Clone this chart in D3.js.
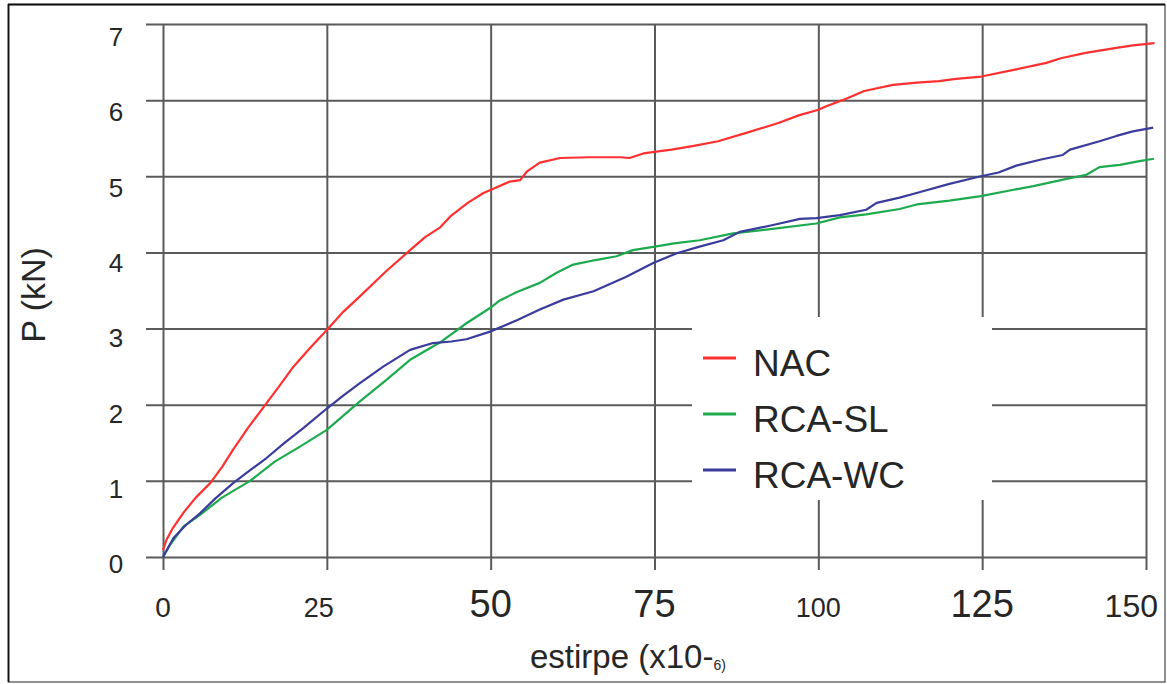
<!DOCTYPE html>
<html>
<head>
<meta charset="utf-8">
<script src="https://cdn.jsdelivr.net/npm/d3@7"></script>
<style>
  html, body { margin: 0; padding: 0; background: #fff; }
  svg { display: block; font-family: "Liberation Sans", Arial, sans-serif; }
</style>
</head>
<body>
<svg id="chart" width="1167" height="684"></svg>
<script>
// Load–strain curves for three concrete mixes
const strainNAC = [0, 0.5, 1.5, 3.1, 5, 7.2, 9, 10.7, 13, 15.8, 17.8, 19.9, 22.5, 25, 27.5, 30, 34, 37.7, 40, 42.3, 43.8, 46.5, 48.9, 50.5, 52.9, 54.5, 55.5, 57.5, 60.6, 65, 69.7, 71.2, 73.3, 77.6, 81, 84.7, 89, 93.9, 97, 99.9, 101.5, 103.7, 107, 111.4, 115, 118.4, 121, 124.9, 130, 134.8, 137, 140.8, 145, 148, 151.3];
const loadNAC   = [0.09, 0.22, 0.38, 0.58, 0.78, 0.97, 1.18, 1.41, 1.7, 2.02, 2.25, 2.5, 2.75, 2.98, 3.22, 3.42, 3.75, 4.03, 4.2, 4.33, 4.47, 4.65, 4.78, 4.84, 4.93, 4.95, 5.06, 5.18, 5.24, 5.25, 5.25, 5.24, 5.3, 5.35, 5.4, 5.46, 5.57, 5.7, 5.8, 5.87, 5.93, 6.0, 6.12, 6.2, 6.23, 6.25, 6.28, 6.31, 6.4, 6.49, 6.55, 6.62, 6.68, 6.72, 6.75];

const strainSL = [0, 1, 3.1, 5.6, 9, 13.3, 17, 20.9, 25, 30, 34, 37.7, 42.3, 46.3, 49.9, 51.4, 54, 57.5, 60, 62.6, 66, 69.2, 71.7, 75.3, 78, 81.9, 87, 93, 99.7, 103.3, 107.3, 112.4, 115, 120, 124.8, 129, 132.8, 137, 140.9, 142.9, 146, 149, 151.2];
const loadSL   = [0, 0.15, 0.4, 0.55, 0.78, 1.0, 1.25, 1.45, 1.67, 2.04, 2.32, 2.59, 2.82, 3.07, 3.27, 3.37, 3.48, 3.6, 3.73, 3.84, 3.9, 3.95, 4.03, 4.08, 4.12, 4.16, 4.25, 4.31, 4.38, 4.46, 4.5, 4.57, 4.63, 4.68, 4.74, 4.81, 4.87, 4.95, 5.02, 5.12, 5.15, 5.2, 5.23];

const strainWC = [0, 1.6, 3.5, 5.6, 8, 10.7, 13.3, 15.8, 18.4, 21.5, 25, 27.5, 30, 33.6, 37.7, 41.2, 44, 46.3, 49.9, 52.4, 54, 57.5, 61.1, 65.7, 70.7, 74.8, 78.4, 82, 85.5, 88, 93.1, 97.2, 99.7, 103.3, 107.3, 108.9, 112.4, 115, 120, 124.8, 127.5, 130.2, 134, 137.3, 138.4, 142.9, 145.5, 148, 151.1];
const loadWC   = [0, 0.25, 0.42, 0.57, 0.77, 0.97, 1.14, 1.3, 1.49, 1.7, 1.95, 2.12, 2.28, 2.5, 2.72, 2.81, 2.83, 2.86, 2.96, 3.05, 3.11, 3.25, 3.38, 3.49, 3.68, 3.86, 3.99, 4.08, 4.16, 4.27, 4.36, 4.44, 4.45, 4.49, 4.56, 4.65, 4.72, 4.78, 4.9, 5.0, 5.05, 5.14, 5.22, 5.28, 5.35, 5.46, 5.53, 5.59, 5.64];

const seriesNames = ["NAC", "RCA-SL", "RCA-WC"];
const xTicks = [0, 25, 50, 75, 100, 125, 150];
const yTicks = [0, 1, 2, 3, 4, 5, 6, 7];

// Presentation
const colors = { "NAC": "#ff3030", "RCA-SL": "#1daa4e", "RCA-WC": "#3a3c9c" };
const xTickFont = { 0: 28, 25: 27, 50: 38, 75: 38, 100: 27, 125: 38, 150: 32 };
const gridColor = "#5a5a5a";
const textColor = "#262626";

const svg = d3.select("#chart");

const x = d3.scaleLinear().domain([0, 150]).range([163, 1146]);
const y = d3.scaleLinear().domain([0, 7]).range([557, 24]);
// tick labels sit a little below their grid lines
const yLabel = d3.scaleLinear().domain([0, 7]).range([564, 37]);

// Outer frame
svg.append("rect")
  .attr("x", 8.5).attr("y", 4.5).attr("width", 1156.5).attr("height", 677.5)
  .attr("fill", "#fff").attr("stroke", "#555").attr("stroke-width", 1.3);
svg.append("line").attr("x1", 8).attr("x2", 1165).attr("y1", 4.5).attr("y2", 4.5)
  .attr("stroke", "#111").attr("stroke-width", 2);
svg.append("line").attr("x1", 8.5).attr("x2", 8.5).attr("y1", 4).attr("y2", 682)
  .attr("stroke", "#111").attr("stroke-width", 1.8);

// Horizontal grid lines, reaching a little past the left edge as tick marks
const hGrid = svg.append("g")
  .attr("transform", "translate(146,0)")
  .call(d3.axisRight(y).tickValues(yTicks).tickSize(1001).tickFormat(""));
hGrid.select(".domain").remove();
hGrid.selectAll("line").attr("stroke", gridColor).attr("stroke-width", 2);

// Vertical grid lines, reaching below the baseline as tick marks
const vGrid = svg.append("g")
  .attr("transform", "translate(0,570)")
  .call(d3.axisTop(x).tickValues(xTicks).tickSize(546).tickFormat(""));
vGrid.select(".domain").remove();
vGrid.selectAll("line").attr("stroke", gridColor).attr("stroke-width", 2);

// Y tick labels
svg.append("g").selectAll("text").data(yTicks).join("text")
  .attr("x", 116).attr("y", d => yLabel(d))
  .attr("dy", "0.35em")
  .attr("text-anchor", "middle")
  .attr("font-size", 26)
  .attr("fill", textColor)
  .text(d => d);

// X tick labels
svg.append("g").selectAll("text").data(xTicks).join("text")
  .attr("x", d => d === 150 ? x(d) + 12 : (d === 25 ? x(d) - 8 : x(d)))
  .attr("y", 617)
  .attr("text-anchor", d => d === 150 ? "end" : "middle")
  .attr("font-size", d => xTickFont[d])
  .attr("fill", textColor)
  .text(d => d);

// Axis titles
svg.append("text")
  .attr("transform", "translate(45,295) rotate(-90)")
  .attr("text-anchor", "middle")
  .attr("font-size", 34)
  .attr("fill", textColor)
  .text("P (kN)");

const xTitle = svg.append("text")
  .attr("x", 530).attr("y", 668)
  .attr("font-size", 33)
  .attr("fill", textColor);
xTitle.append("tspan").text("estirpe (x10-");
xTitle.append("tspan").attr("font-size", 14).attr("dy", 2).text("6)");

// Legend background hides the grid behind it
svg.append("rect")
  .attr("x", 692).attr("y", 317).attr("width", 300).attr("height", 183)
  .attr("fill", "#fff");

// Curves
const line = d3.line().x(d => x(d[0])).y(d => y(d[1]));
const curves = [
  { name: "NAC", pts: d3.zip(strainNAC, loadNAC) },
  { name: "RCA-SL", pts: d3.zip(strainSL, loadSL) },
  { name: "RCA-WC", pts: d3.zip(strainWC, loadWC) }
];
svg.append("g").selectAll("path").data(curves).join("path")
  .attr("d", d => line(d.pts))
  .attr("fill", "none")
  .attr("stroke", d => colors[d.name])
  .attr("stroke-width", 2.2)
  .attr("stroke-linejoin", "round");

// Legend entries
const legend = svg.append("g").selectAll("g").data(seriesNames).join("g")
  .attr("transform", (d, i) => `translate(703,${358 + i * 56})`);
legend.append("line")
  .attr("x1", 0).attr("x2", 33)
  .attr("stroke", d => colors[d]).attr("stroke-width", 3);
legend.append("text")
  .attr("x", 50).attr("y", 18)
  .attr("font-size", 37)
  .attr("fill", textColor)
  .text(d => d);
</script>
</body>
</html>
